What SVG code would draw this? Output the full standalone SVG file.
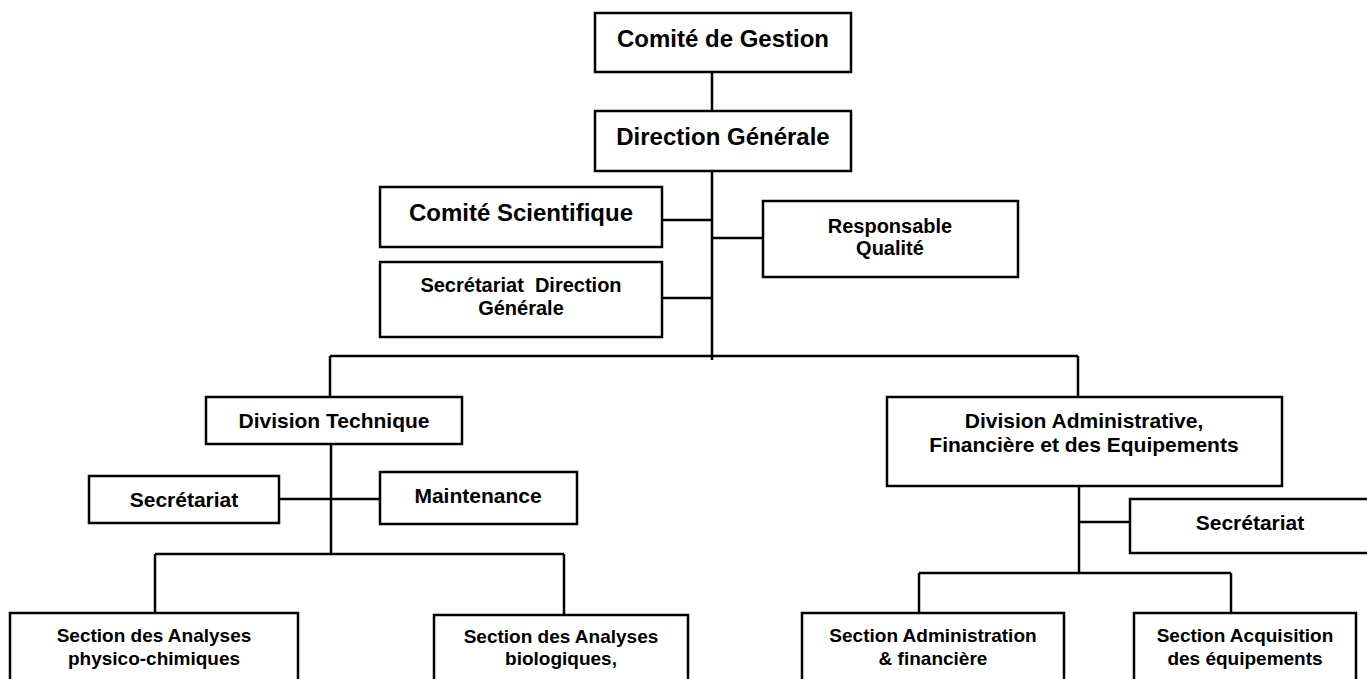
<svg xmlns="http://www.w3.org/2000/svg" width="1367" height="679" viewBox="0 0 1367 679">
<style>
.box{fill:#fff;stroke:#000;stroke-width:2.5}
.ln{stroke:#000;stroke-width:2.5;fill:none}
text{font-family:"Liberation Sans",Arial,sans-serif;font-weight:bold;fill:#000;text-anchor:middle}
.t24{font-size:24px}
.t21{font-size:21px}
.t20{font-size:20px}
.t19{font-size:19px}
</style>
<rect width="1367" height="679" fill="#fff"/>
<g id="connectors" class="ln">
<path d="M712 72V111"/>
<path d="M712 171V360"/>
<path d="M662 220H712"/>
<path d="M712 238H763"/>
<path d="M662 298H712"/>
<path d="M330 356H1078"/>
<path d="M330 356V397"/>
<path d="M1078 356V397"/>
<path d="M331 444V554"/>
<path d="M279 499H380"/>
<path d="M155 554H564"/>
<path d="M155 554V613"/>
<path d="M564 554V615"/>
<path d="M1079 486V573"/>
<path d="M1079 522H1130"/>
<path d="M919 573H1231"/>
<path d="M919 573V613"/>
<path d="M1231 573V613"/>
</g>
<g id="comite-gestion"><rect class="box" x="595" y="13" width="256" height="59"/><text class="t24" x="723" y="47">Comité de Gestion</text></g>
<g id="direction-generale"><rect class="box" x="595" y="111" width="256" height="60"/><text class="t24" x="723" y="145">Direction Générale</text></g>
<g id="comite-scientifique"><rect class="box" x="380" y="187" width="282" height="60"/><text class="t24" x="521" y="221">Comité Scientifique</text></g>
<g id="responsable-qualite"><rect class="box" x="763" y="201" width="255" height="76"/><text class="t20" x="890" y="233">Responsable</text><text class="t20" x="890" y="255">Qualité</text></g>
<g id="secretariat-dg"><rect class="box" x="380" y="262" width="282" height="75"/><text class="t20" x="521" y="292" xml:space="preserve">Secrétariat  Direction</text><text class="t20" x="521" y="315">Générale</text></g>
<g id="division-technique"><rect class="box" x="206" y="397" width="256" height="47"/><text class="t21" x="334" y="428">Division Technique</text></g>
<g id="secretariat-dt"><rect class="box" x="89" y="476" width="190" height="47"/><text class="t21" x="184" y="507">Secrétariat</text></g>
<g id="maintenance"><rect class="box" x="380" y="472" width="197" height="52"/><text class="t21" x="478" y="503">Maintenance</text></g>
<g id="division-administrative"><rect class="box" x="887" y="397" width="395" height="89"/><text class="t21" x="1084" y="428">Division Administrative,</text><text class="t21" x="1084" y="452">Financière et des Equipements</text></g>
<g id="secretariat-dafe"><rect class="box" x="1130" y="499" width="240" height="54"/><text class="t21" x="1250" y="530">Secrétariat</text></g>
<g id="section-physico"><rect class="box" x="10" y="613" width="288" height="80"/><text class="t19" x="154" y="642">Section des Analyses</text><text class="t19" x="154" y="665">physico-chimiques</text></g>
<g id="section-bio"><rect class="box" x="434" y="615" width="254" height="80"/><text class="t19" x="561" y="643">Section des Analyses</text><text class="t19" x="561" y="665">biologiques,</text></g>
<g id="section-admin"><rect class="box" x="802" y="613" width="262" height="80"/><text class="t19" x="933" y="642">Section Administration</text><text class="t19" x="933" y="665">&amp; financière</text></g>
<g id="section-acquisition"><rect class="box" x="1134" y="613" width="222" height="80"/><text class="t19" x="1245" y="642">Section Acquisition</text><text class="t19" x="1245" y="665">des équipements</text></g>
</svg>
